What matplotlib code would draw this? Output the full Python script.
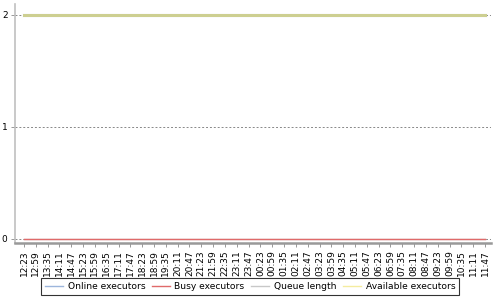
import matplotlib
matplotlib.use('Agg')
import matplotlib.pyplot as plt

# sample times (one label per sample)
times = ['12:23', '12:59', '13:35', '14:11', '14:47', '15:23', '15:59', '16:35',
         '17:11', '17:47', '18:23', '18:59', '19:35', '20:11', '20:47', '21:23',
         '21:59', '22:35', '23:11', '23:47', '00:23', '00:59', '01:35', '02:11',
         '02:47', '03:23', '03:59', '04:35', '05:11', '05:47', '06:23', '06:59',
         '07:35', '08:11', '08:47', '09:23', '09:59', '10:35', '11:11', '11:47']

online_executors = [2] * 40
busy_executors = [0] * 40
queue_length = [0] * 40
available_executors = [2] * 40

yticks = [0, 1, 2]

plt.rcParams['font.family'] = 'DejaVu Sans'
fig = plt.figure(figsize=(5, 3), dpi=100)
ax = fig.add_axes([0.029, 0.19, 0.953, 0.797])

x = list(range(len(times)))
ax.plot(x, online_executors, color='#9db6dc', lw=2.2, label='Online executors', zorder=3)
ax.plot(x, busy_executors, color='#e06a6a', lw=1.0, label='Busy executors', zorder=4)
ax.plot(x, queue_length, color='#c8c8c8', lw=1.0, label='Queue length', zorder=3)
ax.plot(x, available_executors, color='#eee060', lw=2.2, alpha=0.6,
        label='Available executors', zorder=4)

ax.set_xlim(-0.8, 39.5)
ax.set_ylim(-0.036, 2.098)
ax.set_yticks(yticks)
ax.set_yticklabels([str(v) for v in yticks])
ax.set_xticks(x)
ax.set_xticklabels(times, rotation=90)
ax.tick_params(axis='both', labelsize=6.5, colors='#888888', length=3, width=0.6,
               labelcolor='black', pad=2)
ax.yaxis.grid(True, color='#888888', ls=(0, (2, 2)), lw=0.7)

for side in ('top', 'right'):
    ax.spines[side].set_visible(False)
ax.spines['left'].set_color('#c0c0c0')
ax.spines['left'].set_linewidth(1.2)
ax.spines['bottom'].set_color('#999999')
ax.spines['bottom'].set_linewidth(1.8)

leg = fig.legend(loc='lower center', bbox_to_anchor=(0.5, 0.003), ncol=4, fontsize=6.6,
                 frameon=True, fancybox=False, edgecolor='black', handlelength=2.0,
                 handletextpad=0.5, columnspacing=0.7, borderpad=0.4)
leg.get_frame().set_linewidth(0.8)
for h in leg.get_lines():
    h.set_linewidth(1.0)

fig.savefig('out.png', dpi=100)
